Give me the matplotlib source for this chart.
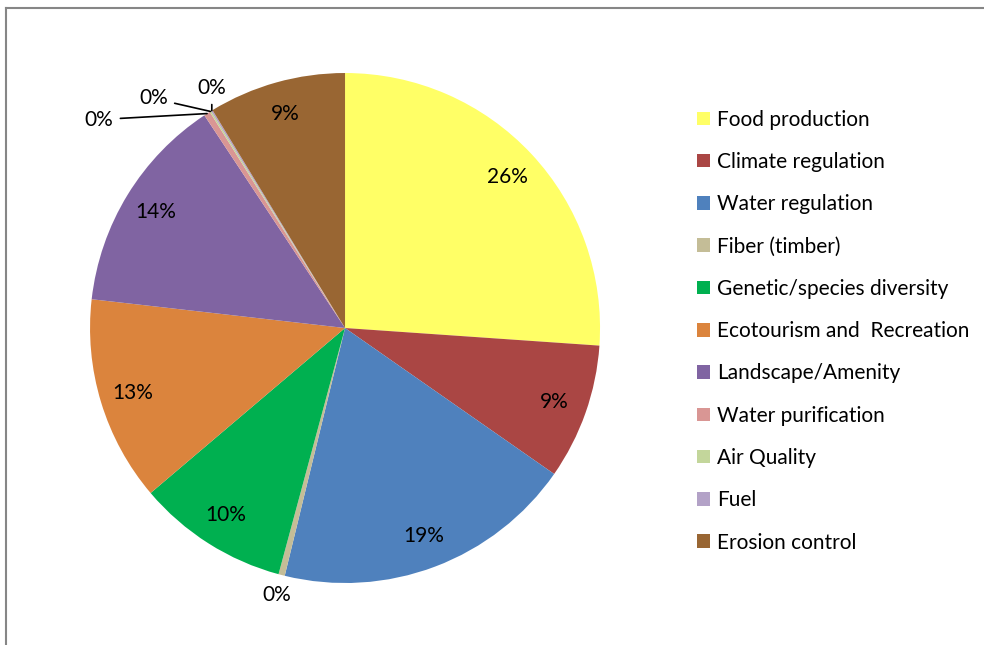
import numpy as np
import matplotlib
matplotlib.use('Agg')
import matplotlib.pyplot as plt
from matplotlib.patches import Patch
from matplotlib.lines import Line2D

plt.rcParams['font.family'] = ['Lato', 'DejaVu Sans']

categories = ['Food production', 'Climate regulation', 'Water regulation', 'Fiber (timber)',
              'Genetic/species diversity', 'Ecotourism and  Recreation', 'Landscape/Amenity',
              'Water purification', 'Air Quality', 'Fuel', 'Erosion control']
shares = [26.1, 8.6, 19.1, 0.4, 9.6, 13.0, 13.9, 0.4, 0.1, 0.1, 8.7]
colors = ['#FFFF66', '#AA4644', '#4F81BD', '#C4BD97', '#00B050', '#DB843D',
          '#8064A2', '#D99694', '#C3D69B', '#B3A2C7', '#996633']

fig = plt.figure(figsize=(9.84, 6.45), dpi=100)
ax = fig.add_axes([0.0915, 0.0961, 0.5183, 0.7907])

wedges, _ = ax.pie(shares, colors=colors, startangle=90, counterclock=False, radius=1)
ax.set_xlim(-1, 1)
ax.set_ylim(-1, 1)
ax.set_aspect('equal')

# label offsets (pixels) for the tiny slices that get leader lines
leader_offsets = {7: (-108, -6), 8: (-57, 13), 9: (0, 23)}
fs = 15

for i, w in enumerate(wedges):
    mid = np.deg2rad((w.theta1 + w.theta2) / 2)
    txt = '%.0f%%' % shares[i]
    if i in leader_offsets:
        ax.annotate(txt, xy=(np.cos(mid), np.sin(mid)), xytext=leader_offsets[i],
                    textcoords='offset pixels', ha='center', va='center', fontsize=fs,
                    arrowprops=dict(arrowstyle='-', color='black', lw=1.2, shrinkA=3, shrinkB=0))
    elif shares[i] < 1:
        ax.text(1.08 * np.cos(mid), 1.08 * np.sin(mid), txt, ha='center', va='center', fontsize=fs)
    else:
        ax.text(0.87 * np.cos(mid), 0.87 * np.sin(mid), txt, ha='center', va='center', fontsize=fs)

handles = [Patch(facecolor=c, edgecolor='none') for c in colors]
fig.legend(handles, categories, loc='upper left', bbox_to_anchor=(0.708, 0.830),
           frameon=False, fontsize=fs, handlelength=0.62, handleheight=0.62,
           handletextpad=0.35, labelspacing=1.07, borderaxespad=0, borderpad=0)

# grey chart-area frame, cut off at the right and bottom
fig.add_artist(Line2D([6 / 984, 6 / 984], [0, 1 - 8 / 645], transform=fig.transFigure,
                      color='#868686', lw=1.5))
fig.add_artist(Line2D([6 / 984, 1], [1 - 8 / 645, 1 - 8 / 645], transform=fig.transFigure,
                      color='#868686', lw=1.5))

fig.savefig('out.png', dpi=100)
